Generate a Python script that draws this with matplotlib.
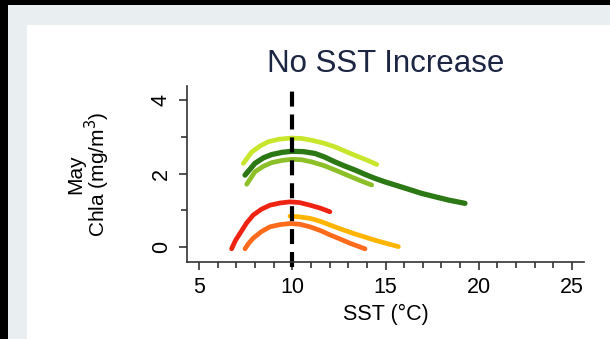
import matplotlib.pyplot as plt
import matplotlib.patches as mpatches

plt.rcParams['font.family'] = ['Liberation Sans', 'DejaVu Sans']

# curves: SST (deg C) and May Chla (mg/m3)
lime_x = [7.38, 7.83, 8.3, 8.72, 9.3, 9.97, 10.5, 11.04, 11.7, 12.29, 12.8, 13.36, 14.0, 14.53]
lime_y = [2.28, 2.59, 2.76, 2.87, 2.94, 2.97, 2.96, 2.91, 2.83, 2.73, 2.62, 2.50, 2.37, 2.25]

dkgreen_x = [7.47, 8.0, 8.45, 8.9, 9.45, 9.97, 10.6, 11.22, 11.75, 12.29, 12.8, 13.36,
             13.9, 14.44, 15.0, 15.51, 16.2, 16.94, 17.65, 18.37, 19.26]
dkgreen_y = [1.96, 2.28, 2.43, 2.52, 2.58, 2.61, 2.60, 2.55, 2.45, 2.32, 2.21, 2.10,
             1.98, 1.87, 1.77, 1.69, 1.58, 1.46, 1.37, 1.28, 1.19]

midgreen_x = [7.56, 8.0, 8.45, 8.9, 9.45, 9.97, 10.5, 11.04, 11.7, 12.29, 12.8, 13.36, 13.8, 14.26]
midgreen_y = [1.71, 2.05, 2.20, 2.30, 2.36, 2.39, 2.38, 2.32, 2.22, 2.10, 1.99, 1.87, 1.78, 1.69]

red_x = [6.75, 6.95, 7.2, 7.55, 7.91, 8.35, 8.81, 9.35, 9.88, 10.4, 10.95, 11.5, 12.02]
red_y = [-0.05, 0.17, 0.37, 0.65, 0.87, 1.03, 1.14, 1.20, 1.23, 1.21, 1.14, 1.06, 0.96]

orange_x = [7.47, 7.65, 7.91, 8.35, 8.81, 9.35, 9.88, 10.4, 10.95, 11.5, 12.02, 12.55, 13.1, 13.9]
orange_y = [-0.05, 0.09, 0.24, 0.42, 0.55, 0.61, 0.64, 0.62, 0.55, 0.45, 0.33, 0.22, 0.10, -0.05]

amber_x = [9.88, 10.4, 10.95, 11.5, 12.02, 12.6, 13.27, 13.9, 14.53, 15.1, 15.69]
amber_y = [0.84, 0.82, 0.78, 0.70, 0.60, 0.49, 0.37, 0.27, 0.17, 0.09, 0.01]

curves = [
    (lime_x, lime_y, '#c8e62c', 3.4),
    (dkgreen_x, dkgreen_y, '#2c7814', 3.8),
    (midgreen_x, midgreen_y, '#8dbf28', 3.4),
    (red_x, red_y, '#ee2312', 3.4),
    (orange_x, orange_y, '#ff6b1c', 3.4),
    (amber_x, amber_y, '#ffb400', 3.4),
]

fig = plt.figure(figsize=(6.1, 3.39), dpi=100)
fig.patch.set_facecolor('black')
# light frame and white panel behind the plot
fig.patches.append(mpatches.Rectangle((8 / 610, 0), 1, 1 - 5 / 339, transform=fig.transFigure,
                                      facecolor='#e9eff1', edgecolor='none', zorder=-2))
fig.patches.append(mpatches.Rectangle((27 / 610, 0), 1, 1 - 25 / 339, transform=fig.transFigure,
                                      facecolor='white', edgecolor='none', zorder=-1))

ax = fig.add_axes([187 / 610, 1 - 262 / 339, 397 / 610, 176 / 339])
ax.set_facecolor('none')

for xs, ys, c, w in curves:
    ax.plot(xs, ys, color=c, lw=w, solid_capstyle='round', solid_joinstyle='round')

ax.axvline(10, ymin=-0.03, ymax=0.99, color='black', lw=3, dashes=(3.6, 1.9), clip_on=False)

ax.set_xlim(4.36, 25.64)
ax.set_ylim(-0.41, 4.39)
ax.spines['top'].set_visible(False)
ax.spines['right'].set_visible(False)
for s in ('left', 'bottom'):
    ax.spines[s].set_color('#333333')
    ax.spines[s].set_linewidth(1.2)

ax.set_xticks([5, 10, 15, 20, 25])
ax.set_xticks(range(6, 26), minor=True)
ax.set_yticks([0, 2, 4])
ax.set_yticks([1, 3], minor=True)
ax.tick_params(which='major', length=6, width=1.2, color='#333333', labelsize=15.5, pad=5)
ax.tick_params(which='minor', length=4, width=1.2, color='#333333')
for lab in ax.get_yticklabels():
    lab.set_rotation(90)
    lab.set_va('center')

ax.set_xlabel('SST (°C)', fontsize=15.5, labelpad=4)
ax.set_ylabel('May\nChla (mg/m$^3$)', fontsize=15, linespacing=0.9)
ax.yaxis.set_label_coords(-0.188, 0.5)
ax.set_title('No SST Increase', fontsize=22.5, color='#1c2542', pad=10)

fig.savefig('out.png', dpi=100, facecolor=fig.get_facecolor())
